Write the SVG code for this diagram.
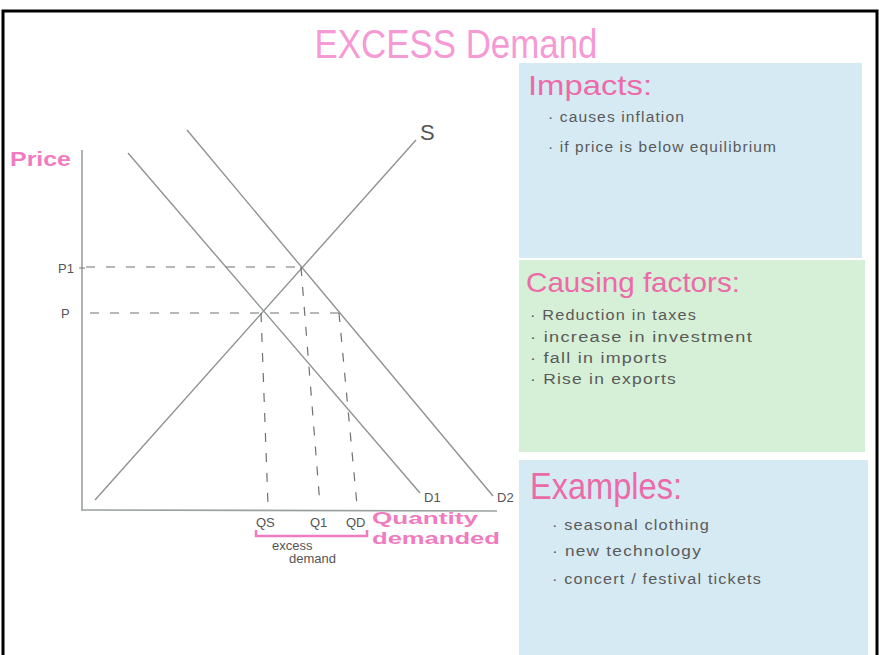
<svg xmlns="http://www.w3.org/2000/svg" width="879" height="655" viewBox="0 0 879 655">
<style>
.ax{stroke:#9aa0a0;stroke-width:1.6;fill:none}
.crv{stroke:#8d9292;stroke-width:1.4;fill:none}
.dsh{stroke:#707070;stroke-width:1.2;stroke-dasharray:9 11;fill:none}
.lbl{font-family:"Liberation Sans",Arial,sans-serif;font-size:13px;fill:#555}
.pk{font-family:"Liberation Sans",Arial,sans-serif;fill:#f07cc0}
.hd{font-family:"Liberation Sans",Arial,sans-serif;fill:#ec6aa8}
.bl{font-family:"Liberation Sans",Arial,sans-serif;font-size:14px;fill:#5a5a5a;letter-spacing:1px}
</style>
<rect x="0" y="0" width="879" height="655" fill="#ffffff"/>
<path d="M3 655 V11 H877 V655" fill="none" stroke="#000" stroke-width="3"/>
<text x="456" y="58" text-anchor="middle" font-family="Liberation Sans, Arial, sans-serif" font-size="40" textLength="283" lengthAdjust="spacingAndGlyphs" fill="#f59ad5">EXCESS Demand</text>

<g id="panel-impacts">
<rect x="519" y="63" width="343" height="195" fill="#d6eaf4"/>
<text x="528" y="95" class="hd" font-size="28" textLength="124" lengthAdjust="spacingAndGlyphs">Impacts:</text>
<text x="548" y="122" class="bl" textLength="137" lengthAdjust="spacingAndGlyphs">· causes inflation</text>
<text x="548" y="152" class="bl" textLength="229" lengthAdjust="spacingAndGlyphs">· if price is below equilibrium</text>
</g>
<g id="panel-causing">
<rect x="519" y="260" width="346" height="192" fill="#d5f0d6"/>
<text x="526" y="292" class="hd" font-size="28" textLength="214" lengthAdjust="spacingAndGlyphs">Causing factors:</text>
<text x="530" y="320" class="bl" textLength="167" lengthAdjust="spacingAndGlyphs">· Reduction in taxes</text>
<text x="530" y="342" class="bl" textLength="223" lengthAdjust="spacingAndGlyphs">· increase in investment</text>
<text x="530" y="363" class="bl" textLength="138" lengthAdjust="spacingAndGlyphs">· fall in imports</text>
<text x="530" y="384" class="bl" textLength="147" lengthAdjust="spacingAndGlyphs">· Rise in exports</text>
</g>
<g id="panel-examples">
<rect x="519" y="460" width="349" height="195" fill="#d6eaf4"/>
<text x="530" y="499" class="hd" font-size="36" textLength="152" lengthAdjust="spacingAndGlyphs">Examples:</text>
<text x="552" y="530" class="bl" textLength="158" lengthAdjust="spacingAndGlyphs">· seasonal clothing</text>
<text x="552" y="556" class="bl" textLength="150" lengthAdjust="spacingAndGlyphs">· new technology</text>
<text x="552" y="584" class="bl" textLength="210" lengthAdjust="spacingAndGlyphs">· concert / festival tickets</text>
</g>

<g id="axes">
<line x1="82" y1="150" x2="82" y2="511" class="ax"/>
<line x1="82" y1="510" x2="497" y2="511" class="ax"/>
<text x="10" y="166" class="pk" font-size="20" font-weight="bold" textLength="61" lengthAdjust="spacingAndGlyphs">Price</text>
<text x="372" y="524" class="pk" font-size="16" font-weight="bold" textLength="106" lengthAdjust="spacingAndGlyphs">Quantity</text>
<text x="372" y="544" class="pk" font-size="17" font-weight="bold" textLength="128" lengthAdjust="spacingAndGlyphs">demanded</text>
</g>

<g id="curves">
<line x1="95" y1="500" x2="416" y2="140" class="crv"/>
<line x1="128" y1="153" x2="420" y2="493" class="crv"/>
<line x1="187" y1="130" x2="493" y2="496" class="crv"/>
<text x="420" y="140" font-family="Liberation Sans, Arial, sans-serif" font-size="22" fill="#555">S</text>
<text x="424" y="502" class="lbl">D1</text>
<text x="497" y="502" class="lbl">D2</text>
</g>

<g id="guides">
<line x1="86" y1="267" x2="301" y2="267" class="dsh"/>
<line x1="90" y1="313" x2="339" y2="313" class="dsh"/>
<line x1="261" y1="313" x2="268" y2="505" class="dsh"/>
<line x1="301" y1="267" x2="320" y2="505" class="dsh"/>
<line x1="339" y1="313" x2="357" y2="505" class="dsh"/>
<line x1="79" y1="268" x2="85" y2="268" stroke="#777" stroke-width="1"/>
<text x="58" y="273" class="lbl">P1</text>
<text x="61" y="318" class="lbl">P</text>
<text x="256" y="527" class="lbl">QS</text>
<text x="310" y="527" class="lbl">Q1</text>
<text x="346" y="527" class="lbl">QD</text>
<path d="M256 530 V536 H367 V530" fill="none" stroke="#f07cc0" stroke-width="2.5"/>
<text x="272" y="550" class="lbl">excess</text>
<text x="289" y="563" class="lbl">demand</text>
</g>
</svg>
